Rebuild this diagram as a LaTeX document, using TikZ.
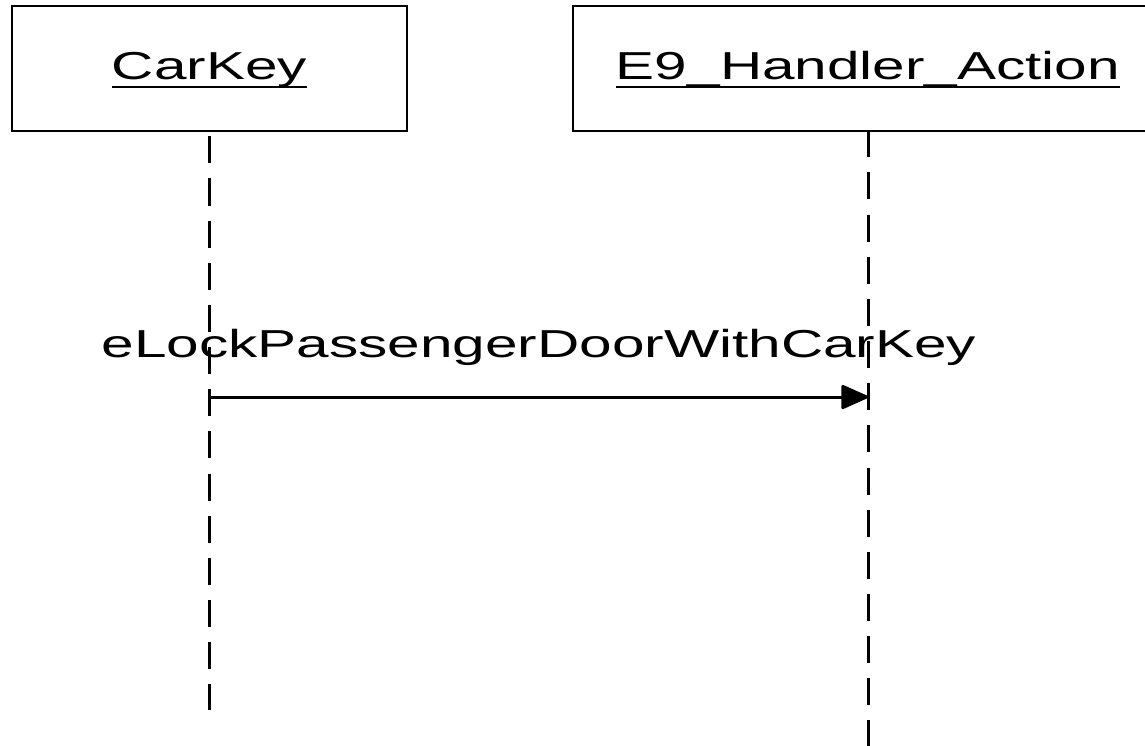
\documentclass[tikz,border=0pt]{standalone}
\usepackage{graphicx}
\usepackage{fontspec}
\setmainfont{Liberation Sans}
\usetikzlibrary{arrows.meta}
\newcommand{\wtxt}[1]{\scalebox{1.5}[1]{#1}}
\tikzset{
  objbox/.style={draw, line width=2.7pt, minimum height=125pt, inner sep=0pt},
  lbl/.style={inner sep=0pt, font=\fontsize{39}{46}\selectfont},
  uline/.style={line width=2.5pt},
  lifeline/.style={line width=3pt, dash pattern=on 27pt off 15.15pt},
  msg/.style={line width=3pt, -{Triangle[length=29pt,width=25pt,round]}}
}
\begin{document}
\begin{tikzpicture}[x=1pt,y=-1pt]
\path[use as bounding box] (0,0) rectangle (1145,746);
% object boxes
\node[objbox, minimum width=395pt] (ck) at (209.5,68.5) {};
\node[objbox, minimum width=590pt] (eh) at (868,68.5) {};
% object names
\node[lbl, anchor=base] (ckt) at (209.5,80) {\wtxt{CarKey}};
\node[lbl, anchor=base] (eht) at (868,80) {\wtxt{E9\_Handler\_Action}};
\draw[uline] ([yshift=-7pt]ckt.base west) -- ([yshift=-7pt]ckt.base east);
\draw[uline] ([yshift=-7pt]eht.base west) -- ([yshift=-7pt]eht.base east);
% lifelines
\coordinate (ckend) at (209.5,710);
\coordinate (ehend) at (868,746);
\draw[lifeline, dash phase=38.15pt] (ck.south) -- (ckend);
\draw[lifeline, dash phase=2pt] (eh.south) -- (ehend);
% message
\coordinate (ms) at (209.5,397);
\coordinate (mt) at (868,397);
\draw[msg] (ms) -- (mt);
\node[lbl, anchor=base] (ml) at (539,357) {\wtxt{eLockPassengerDoorWithCarKey}};
\end{tikzpicture}
\end{document}
